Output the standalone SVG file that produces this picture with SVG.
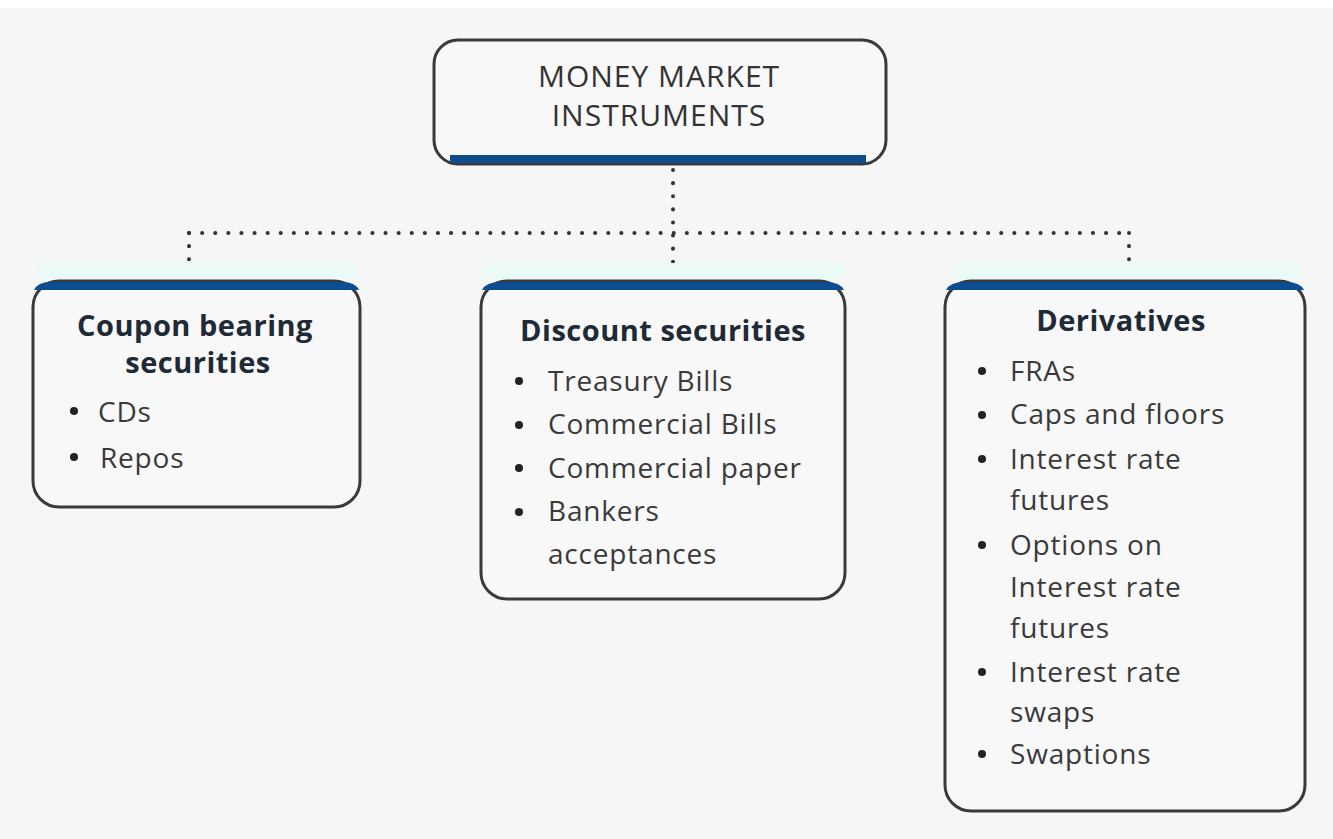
<svg xmlns="http://www.w3.org/2000/svg" width="1333" height="839" viewBox="0 0 1333 839">
<style>
.box{fill:#f8f8f8;stroke:#3a3a3a;stroke-width:3}
.bar{fill:#0b4d8e}
.band{fill:#e9faf7}
.dot{fill:none;stroke:#333;stroke-width:4;stroke-dasharray:0.1 13;stroke-linecap:round}
.t{font-family:"Open Sans","Noto Sans",sans-serif;font-size:28px;letter-spacing:0.8px;fill:#3a3a3a}
.ti{font-family:"Open Sans","Noto Sans",sans-serif;font-size:30px;letter-spacing:1px;fill:#333}
.h{font-family:"Open Sans","Noto Sans",sans-serif;font-size:29px;letter-spacing:0.5px;font-weight:bold;fill:#1e2a36}
.c{text-anchor:middle}
</style>
<rect x="0" y="0" width="1333" height="839" fill="#f6f6f6"/>
<rect x="0" y="0" width="1333" height="8" fill="#ffffff"/>
<g id="connectors">
<path class="dot" d="M673 170 V280"/>
<path class="dot" d="M189 233 H1129"/>
<path class="dot" d="M189 233 V272"/>
<path class="dot" d="M1129 233 V272"/>
</g>
<g id="root">
<rect class="box" x="434" y="40" width="452" height="124" rx="24" fill="#fafafa"/>
<rect class="bar" x="450" y="155" width="416" height="8"/>
<text class="ti c" x="659" y="87">MONEY MARKET</text>
<text class="ti c" x="659" y="126">INSTRUMENTS</text>
</g>
<g id="coupon">
<rect class="band" x="38" y="263" width="318" height="16"/>
<rect class="box" x="33" y="281" width="327" height="226" rx="26"/>
<path class="bar" d="M50 282 H343 Q355 282 359 290 H34 Q38 282 50 282 Z"/>
<text class="h c" x="195" y="336">Coupon bearing</text>
<text class="h c" x="198" y="373">securities</text>
<circle cx="74" cy="411" r="4" fill="#222"/>
<text class="t" x="98" y="422">CDs</text>
<circle cx="74" cy="457" r="4" fill="#222"/>
<text class="t" x="100" y="468">Repos</text>
</g>
<g id="discount">
<rect class="band" x="482" y="263" width="362" height="16"/>
<rect class="box" x="481" y="281" width="364" height="318" rx="26"/>
<path class="bar" d="M500 282 H826 Q840 282 844 290 H482 Q486 282 500 282 Z"/>
<text class="h c" x="663" y="341">Discount securities</text>
<circle cx="519" cy="381" r="4" fill="#222"/>
<text class="t" x="548" y="391">Treasury Bills</text>
<circle cx="519" cy="425" r="4" fill="#222"/>
<text class="t" x="548" y="434">Commercial Bills</text>
<circle cx="519" cy="468" r="4" fill="#222"/>
<text class="t" x="548" y="478">Commercial paper</text>
<circle cx="519" cy="512" r="4" fill="#222"/>
<text class="t" x="548" y="521">Bankers</text>
<text class="t" x="548" y="564">acceptances</text>
</g>
<g id="derivatives">
<rect class="band" x="955" y="263" width="345" height="16"/>
<rect class="box" x="945" y="281" width="360" height="530" rx="26"/>
<path class="bar" d="M964 282 H1286 Q1300 282 1304 290 H946 Q950 282 964 282 Z"/>
<text class="h c" x="1121" y="331">Derivatives</text>
<circle cx="982" cy="371" r="4" fill="#222"/>
<text class="t" x="1010" y="381">FRAs</text>
<circle cx="982" cy="415" r="4" fill="#222"/>
<text class="t" x="1010" y="424">Caps and floors</text>
<circle cx="982" cy="459" r="4" fill="#222"/>
<text class="t" x="1010" y="469">Interest rate</text>
<text class="t" x="1010" y="510">futures</text>
<circle cx="982" cy="545" r="4" fill="#222"/>
<text class="t" x="1010" y="555">Options on</text>
<text class="t" x="1010" y="597">Interest rate</text>
<text class="t" x="1010" y="638">futures</text>
<circle cx="982" cy="672" r="4" fill="#222"/>
<text class="t" x="1010" y="682">Interest rate</text>
<text class="t" x="1010" y="722">swaps</text>
<circle cx="982" cy="754" r="4" fill="#222"/>
<text class="t" x="1010" y="764">Swaptions</text>
</g>
</svg>
